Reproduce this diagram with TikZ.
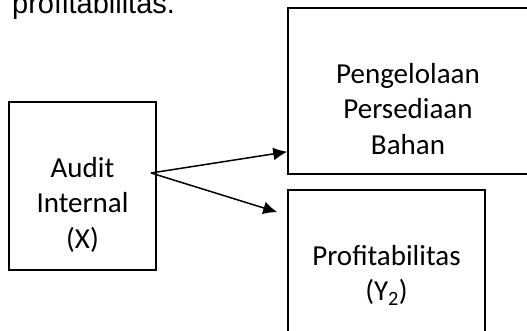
\documentclass[tikz,border=0pt]{standalone}
\usepackage{fontspec}
\setmainfont{Carlito}
\newfontfamily\arialfont{Liberation Sans}
\usetikzlibrary{arrows.meta,calc}

\begin{document}
\begin{tikzpicture}[
  x=1pt,y=-1pt,
  box/.style={draw,line width=1.5pt,inner sep=0pt},
  boxtext/.style={align=center,inner sep=0pt,anchor=north,
    font=\fontsize{29}{35.4}\selectfont},
  every path/.style={>={Latex[length=14pt,width=13pt]}},
  ]
  \useasboundingbox (0,0) rectangle (527,331);
  \node[anchor=base west,inner sep=0pt,font=\arialfont\fontsize{29}{35}\selectfont]
    (caption) at (12,14) {profitabilitas.};
  \node(audit)[box,minimum width=147pt,minimum height=168pt,
  label={[boxtext,yshift=-56pt]north:{Audit\\Internal\\(X)}}] at (82.5,186) {};
  \node(bahan)[box,minimum width=240pt,minimum height=166pt,
  label={[boxtext,yshift=-56pt]north:{Pengelolaan\\Persediaan\\Bahan}}] at (408,91) {};
  \node(profit)[box,minimum width=197pt,minimum height=180pt,
  label={[boxtext,yshift=-56pt]north:{Profitabilitas\\(Y\textsubscript{2})}}] at (386.5,280) {};
  \coordinate(fork) at (151,173);
  \draw[->,line width=1.5pt] (fork) -- ($(bahan.south west)+(0,-23)$);
  \draw[->,line width=1.5pt,shorten >=10.5pt] (fork) -- ($(profit.north west)+(0,26)$);
\end{tikzpicture}
\end{document}
